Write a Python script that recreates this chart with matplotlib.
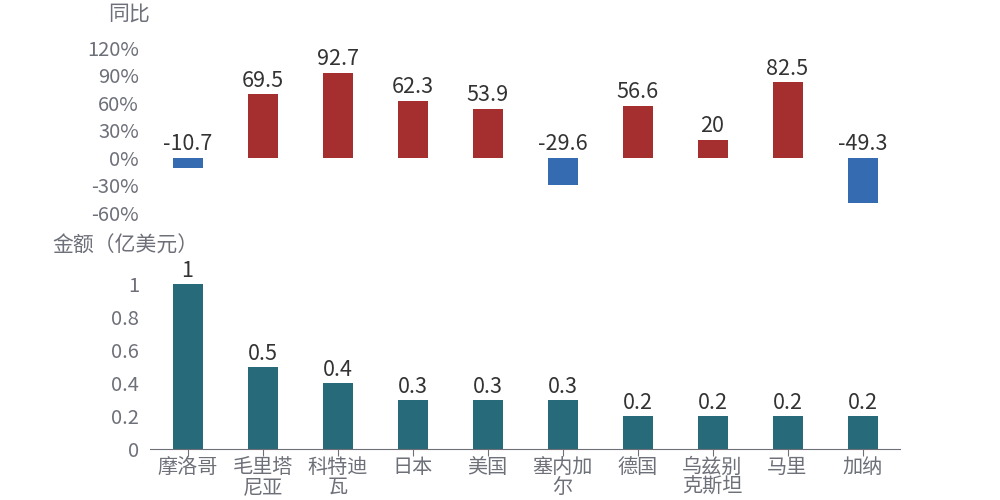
import matplotlib.pyplot as plt
import numpy as np

plt.rcParams['font.family'] = ['Noto Sans CJK SC', 'DejaVu Sans']

countries = ['摩洛哥', '毛里塔\n尼亚', '科特迪\n瓦', '日本', '美国', '塞内加\n尔', '德国', '乌兹别\n克斯坦', '马里', '加纳']
yoy = [-10.7, 69.5, 92.7, 62.3, 53.9, -29.6, 56.6, 20, 82.5, -49.3]
amount = [1, 0.5, 0.4, 0.3, 0.3, 0.3, 0.2, 0.2, 0.2, 0.2]
yoy_ticks = [-60, -30, 0, 30, 60, 90, 120]
amt_ticks = [0, 0.2, 0.4, 0.6, 0.8, 1]

red = '#a52f2f'
blue = '#356bb0'
teal = '#276a7a'
gray = '#6e7079'
dark = '#333333'

fig = plt.figure(figsize=(10, 5), dpi=100)
x = np.arange(len(countries))

# top: year-on-year
ax1 = fig.add_axes([0.15, 1 - 213 / 500, 0.75, 165 / 500])
cols = [red if v >= 0 else blue for v in yoy]
ax1.bar(x, yoy, width=0.4, color=cols)
for xi, v in zip(x, yoy):
    top = max(v, 0)
    ax1.text(xi, top + 3, f'{v:g}', ha='center', va='bottom', fontsize=15.5, color=dark)
ax1.set_xlim(-0.5, 9.5)
ax1.set_ylim(-60, 120)
ax1.set_yticks(yoy_ticks)
ax1.set_yticklabels([f'{t}%' for t in yoy_ticks])
ax1.tick_params(axis='y', length=0, labelsize=14.5, labelcolor=gray, pad=8)
ax1.set_xticks([])
for s in ax1.spines.values():
    s.set_visible(False)
fig.text(0.108, 1 - 14 / 500, '同比', fontsize=15, color=gray, va='center', ha='left')

# bottom: amount
ax2 = fig.add_axes([0.15, 1 - 449 / 500, 0.75, 165 / 500])
ax2.bar(x, amount, width=0.4, color=teal)
for xi, v in zip(x, amount):
    ax2.text(xi, v + 0.01, f'{v:g}', ha='center', va='bottom', fontsize=15.5, color=dark)
ax2.set_xlim(-0.5, 9.5)
ax2.set_ylim(0, 1)
ax2.set_yticks(amt_ticks)
ax2.set_yticklabels([f'{t:g}' for t in amt_ticks])
ax2.tick_params(axis='y', length=0, labelsize=14.5, labelcolor=gray, pad=8)
ax2.set_xticks(x)
ax2.set_xticklabels(countries, linespacing=0.9)
ax2.tick_params(axis='x', length=5, color=gray, labelsize=14.5, labelcolor=gray, pad=1)
for k in ['top', 'right', 'left']:
    ax2.spines[k].set_visible(False)
ax2.spines['bottom'].set_color(gray)
fig.text(0.052, 1 - 246 / 500, '金额（亿美元）', fontsize=15, color=gray, va='center', ha='left')

fig.savefig('out.png', dpi=100)
